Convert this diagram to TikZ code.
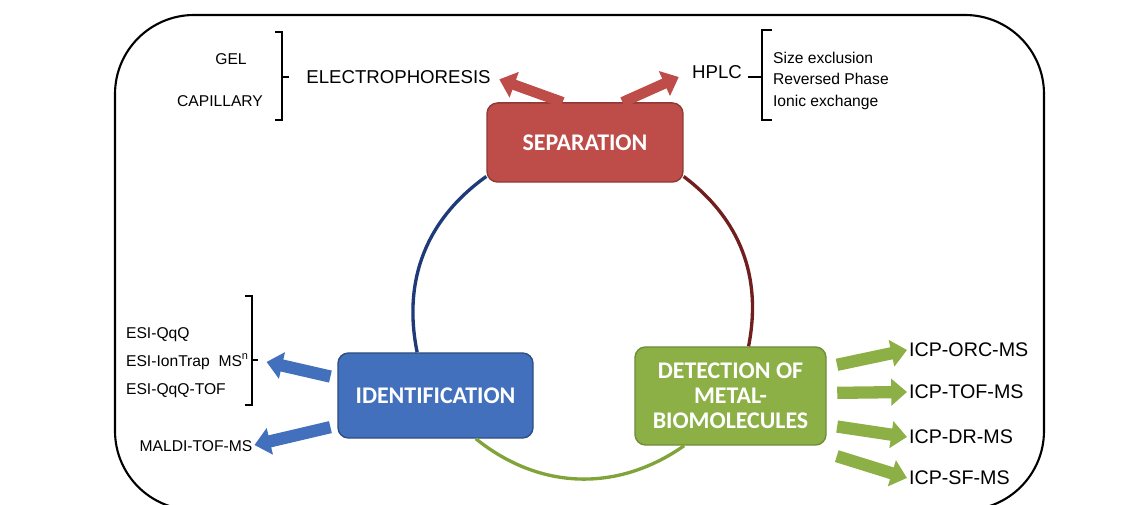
\documentclass[tikz,border=0pt]{standalone}
\usepackage{fontspec}
\setmainfont{Liberation Sans}
\newfontfamily\boxfont{Carlito}
\usetikzlibrary{arrows.meta}
\definecolor{sepred}{RGB}{190,76,72}
\definecolor{identblue}{RGB}{66,112,188}
\definecolor{detgreen}{RGB}{140,176,70}
\definecolor{sepline}{RGB}{112,30,30}
\definecolor{identline}{RGB}{30,58,120}
\definecolor{detline}{RGB}{128,164,58}
\begin{document}
\begin{tikzpicture}[scale=0.2]
	\tikzstyle{every node}+=[inner sep=1pt]
	\tikzstyle{lbl}=[font=\fontsize{8.9}{10}\selectfont, text height=0.72em, text depth=0pt]
	\tikzstyle{biglbl}=[lbl, font=\fontsize{10.6}{12}\selectfont]
	\tikzstyle{icplbl}=[lbl, font=\fontsize{11.2}{13}\selectfont, anchor=west]
	\tikzstyle{stepbox}=[rectangle, rounded corners=6pt, inner sep=0pt, text=white, align=center, font=\boxfont\bfseries\fontsize{13.6}{14.2}\selectfont, line width=0.8pt]
	\tikzstyle{fatarrow}=[line width=7pt, -{Triangle[length=9pt,width=15pt]}]
	\tikzstyle{cyclearc}=[line width=1.9pt]
	\tikzstyle{brk}=[line width=1.1pt]
	\clip (0,0) rectangle (113.8,-50.5);
	\draw [line width=1.2pt, rounded corners=45pt] (11.5,-1.5) rectangle (104.4,-51);
	\node [stepbox, fill=sepred, draw=sepred!75!black, minimum width=111.5pt, minimum height=45pt] (sep) at (58.5,-14.25) {SEPARATION};
	\node [stepbox, fill=identblue, draw=identblue!70!black, minimum width=111pt, minimum height=48.4pt] (ident) at (43.55,-39.55) {IDENTIFICATION};
	\node [stepbox, fill=detgreen, draw=detgreen!80!black, minimum width=108.7pt, minimum height=55.8pt] (det) at (73.05,-39.6) {DETECTION OF\\METAL-\\BIOMOLECULES};
	\draw [cyclearc, identline] (sep.199) to[bend right=33] (ident.113);
	\draw [cyclearc, sepline] (sep.-19) to[bend left=32] (det.70);
	\draw [cyclearc, detline] (ident.-47) to[bend right=37] (det.227);
	\node [lbl] (gel) at (23.1,-5.8) {GEL};
	\node [lbl] (capillary) at (22.0,-10.0) {CAPILLARY};
	\node [biglbl] (electro) at (39.85,-7.7) {ELECTROPHORESIS};
	\node [biglbl] (hplc) at (71.7,-7.2) {HPLC};
	\node [lbl, anchor=west] (sizeex) at (77.1,-5.7) {Size exclusion};
	\node [lbl, anchor=west] (revphase) at (77.1,-7.8) {Reversed Phase};
	\node [lbl, anchor=west] (ionic) at (77.1,-10.0) {Ionic exchange};
	\node [lbl, anchor=west] (esiqqq) at (12.4,-33.2) {ESI-QqQ};
	\node [lbl, anchor=west] (esitrap) at (12.4,-36.0) {ESI-IonTrap\ \ MS\textsuperscript{n}};
	\node [lbl, anchor=west] (esitof) at (12.4,-38.8) {ESI-QqQ-TOF};
	\node [lbl] (maldi) at (19.6,-44.5) {MALDI-TOF-MS};
	\node [icplbl] (icporc) at (90.7,-35.0) {ICP-ORC-MS};
	\node [icplbl] (icptof) at (90.7,-39.2) {ICP-TOF-MS};
	\node [icplbl] (icpdr) at (90.7,-43.7) {ICP-DR-MS};
	\node [icplbl] (icpsf) at (90.7,-47.8) {ICP-SF-MS};
	\draw [brk] (27.5,-3.2) -- (28.2,-3.2) -- (28.2,-12.0) -- (27.5,-12.0);
	\draw [brk] (28.2,-7.7) -- (28.9,-7.7);
	\draw [brk] (77.2,-3.0) -- (76.2,-3.0) -- (76.2,-12.0) -- (77.2,-12.0);
	\draw [brk] (74.8,-7.7) -- (76.2,-7.7);
	\draw [brk] (24.5,-29.6) -- (25.2,-29.6) -- (25.2,-40.5) -- (24.5,-40.5);
	\draw [brk] (25.2,-36.0) -- (25.8,-36.0);
	\coordinate (esitick) at (25.8,-36.0);
	\draw [fatarrow, sepred, line width=6pt, shorten >=4pt] (sep.119) -- (electro.east);
	\draw [fatarrow, sepred, line width=6pt, shorten >=7pt] (sep.47) -- (hplc.west);
	\draw [fatarrow, identblue, shorten <=4pt, shorten >=5pt] (ident.170) -- (esitick);
	\draw [fatarrow, identblue, shorten <=4pt] (ident.197) -- (maldi.east);
	\foreach \lab/\dy in {icporc/2.9, icptof/0.3, icpdr/-2.9, icpsf/-5.7}
		\draw [fatarrow, detgreen, shorten <=6pt] ([shift={(0,\dy)}]det.east) -- (\lab.west);
\end{tikzpicture}
\end{document}
